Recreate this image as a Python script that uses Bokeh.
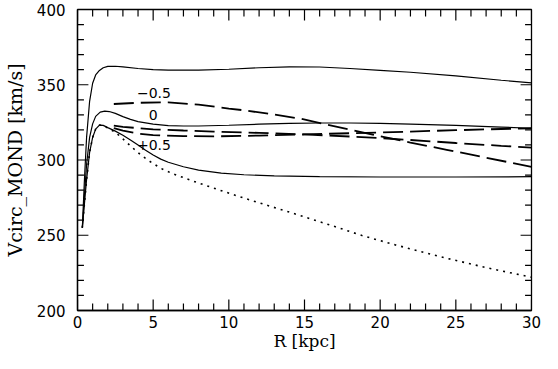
import numpy as np
from bokeh.plotting import figure
from bokeh.models import Range1d, SingleIntervalTicker
from bokeh.core.properties import value
from bokeh.embed import file_html
from bokeh.resources import INLINE

# ---- data ----
top_r = [0.32, 0.45, 0.6, 0.8, 1.0, 1.2, 1.45, 1.7, 2.0, 2.5, 3, 4, 5, 6, 8, 10, 12, 14, 16, 18, 20, 22, 25, 28, 30]
top_v = [255, 285, 315, 339, 351, 356.5, 359.5, 361.3, 362.2, 362.3, 361.9, 360.8, 360.0, 359.7, 359.7, 360.3, 361.3, 361.9, 361.8, 360.8, 359.6, 358.3, 355.9, 353.0, 351.2]

mid_r = [0.32, 0.45, 0.6, 0.8, 1.0, 1.2, 1.5, 1.8, 2.1, 2.5, 3, 3.5, 4, 5, 6, 7, 8, 10, 12, 14, 16, 18, 20, 22, 25, 28, 30]
mid_v = [255, 275, 297, 315, 324, 329, 331.8, 332.5, 332.2, 331, 328.8, 327, 325.5, 323.8, 322.9, 322.6, 322.6, 323.1, 323.8, 324.3, 324.6, 324.6, 324.3, 323.9, 323.0, 321.9, 321.1]

low_r = [0.32, 0.45, 0.6, 0.8, 1.0, 1.2, 1.45, 1.7, 2.0, 2.5, 3, 3.5, 4, 4.5, 5, 5.5, 6, 7, 8, 9.5, 11, 13, 16, 20, 25, 30]
low_v = [255, 270, 287, 305, 315, 320.5, 323.2, 323.0, 321.5, 319.2, 316.5, 313.3, 310.0, 306.5, 303.3, 300.6, 298.5, 295.5, 293.3, 291.3, 290.2, 289.4, 288.9, 288.7, 288.7, 288.9]

newt_r = [0.32, 0.45, 0.6, 0.8, 1.0, 1.2, 1.45, 1.7, 2.0, 2.5, 3, 3.6, 4.2, 4.7, 5.5, 6.3, 7, 8, 9.6, 11, 12.5, 13.7, 15, 17, 18.8, 21, 24.2, 27, 30]
newt_v = [255, 270, 287, 305, 315, 320.5, 323.2, 323.0, 321.2, 318.5, 314.0, 308.5, 303.2, 299.6, 294.5, 290.8, 288.3, 284.7, 279.3, 274.7, 270.0, 266.3, 262.2, 255.8, 249.8, 243.6, 235.2, 228.5, 222.1]

dashA_r = [2.4, 4, 6, 8, 10, 11.1, 13, 14.8, 16.5, 18.2, 19.5, 22, 24.4, 27, 30]
dashA_v = [337.2, 338.0, 338.3, 336.8, 334.2, 332.9, 330.2, 327.3, 323.5, 319.8, 316.8, 311.6, 306.8, 301.5, 295.5]

dashB_r = [2.4, 3, 4, 5, 7, 9, 12, 15, 18, 20, 22, 25, 28, 30]
dashB_v = [322.8, 322.0, 321.2, 320.4, 319.6, 318.9, 318.0, 317.0, 315.6, 314.6, 313.3, 311.3, 309.4, 308.2]

dashC_r = [2.4, 3, 4, 5, 7, 9, 12, 15, 18, 20, 22, 25, 28, 30]
dashC_v = [321.1, 319.5, 317.5, 316.5, 315.9, 315.7, 316.2, 317.0, 317.8, 318.3, 318.9, 319.8, 320.6, 321.1]

label_text = ["\u22120.5", "0", "+0.5"]
label_r = [5.05, 5.0, 5.05]
label_v = [344.8, 330.0, 310.2]

x_min, x_max, x_major, x_minor = 0, 30, 5, 1
y_min, y_max, y_major, y_minor = 200, 400, 50, 10

W, H = 542, 353
B_LEFT, B_RIGHT, B_TOP, B_BOTTOM = 73, 11, 9, 43

# ---- figure ----
p = figure(width=W, height=H, x_range=Range1d(x_min, x_max), y_range=Range1d(y_min, y_max),
           output_backend="svg", toolbar_location=None,
           min_border_left=B_LEFT, min_border_right=B_RIGHT, min_border_top=B_TOP, min_border_bottom=B_BOTTOM,
           background_fill_color="white", border_fill_color="white")
p.xgrid.visible = False
p.ygrid.visible = False
p.outline_line_color = "black"
p.outline_line_width = 1.3

for ax, tk in [(p.xaxis[0], SingleIntervalTicker(interval=x_major, num_minor_ticks=5)),
               (p.yaxis[0], SingleIntervalTicker(interval=y_major, num_minor_ticks=5))]:
    ax.ticker = tk
    ax.major_tick_in = 0
    ax.major_tick_out = 0
    ax.minor_tick_in = 0
    ax.minor_tick_out = 0
    ax.axis_line_color = "black"
    ax.axis_line_width = 1.3
    ax.major_label_text_font = "DejaVu Sans"
    ax.major_label_text_font_size = "15px"
    ax.major_label_text_color = "black"
    ax.axis_label_text_font = "DejaVu Serif"
    ax.axis_label_text_font_style = "normal"
    ax.axis_label_text_color = "black"

p.xaxis[0].axis_label = "R [kpc]"
p.xaxis[0].axis_label_text_font_size = "17px"
p.xaxis[0].major_label_standoff = 5
p.xaxis[0].axis_label_standoff = 0
p.yaxis[0].axis_label = "Vcirc_MOND [km/s]"
p.yaxis[0].axis_label_text_font_size = "19px"
p.yaxis[0].major_label_standoff = 12
p.yaxis[0].axis_label_standoff = 8

# ---- inward ticks on all four sides: thin filled bars lying just inside the frame ----
frame_w = W - B_LEFT - B_RIGHT
frame_h = H - B_TOP - B_BOTTOM
ux = (x_max - x_min) / frame_w   # data units per pixel
uy = (y_max - y_min) / frame_h

x_ticks = [(float(t), 11 if t % x_major == 0 else 7) for t in np.arange(x_min, x_max + 0.001, x_minor)]
y_ticks = [(float(t), 11 if t % y_major == 0 else 6.5) for t in np.arange(y_min, y_max + 0.001, y_minor)]
hw, inset = 0.6, 0.5   # half width and inset of a tick, in pixels

L_, R_, B_, T_ = [], [], [], []
for t, L in x_ticks:
    lo, hi = max(x_min + inset * ux, t - hw * ux), min(x_max - inset * ux, t + hw * ux)
    L_ += [lo, lo]; R_ += [hi, hi]
    B_ += [y_min + inset * uy, y_max - L * uy]
    T_ += [y_min + L * uy, y_max - inset * uy]
for t, L in y_ticks:
    lo, hi = max(y_min + inset * uy, t - hw * uy), min(y_max - inset * uy, t + hw * uy)
    B_ += [lo, lo]; T_ += [hi, hi]
    L_ += [x_min + inset * ux, x_max - L * ux]
    R_ += [x_min + L * ux, x_max - inset * ux]
p.quad(left=L_, right=R_, bottom=B_, top=T_, fill_color="black", line_color=None)

# ---- curves ----
for r, v in [(top_r, top_v), (mid_r, mid_v), (low_r, low_v)]:
    p.line(r, v, line_color="black", line_width=1.2)
p.line(newt_r, newt_v, line_color="black", line_width=1.6, line_dash="2 5")
for r, v in [(dashA_r, dashA_v), (dashB_r, dashB_v), (dashC_r, dashC_v)]:
    p.line(r, v, line_color="black", line_width=1.8, line_dash="20 7")

p.text(x=label_r, y=label_v, text=label_text, text_font=value("DejaVu Sans"),
       text_font_size="14px", text_align="center", text_baseline="middle", text_color="black")

open("out.html", "w").write(file_html(p, INLINE))
